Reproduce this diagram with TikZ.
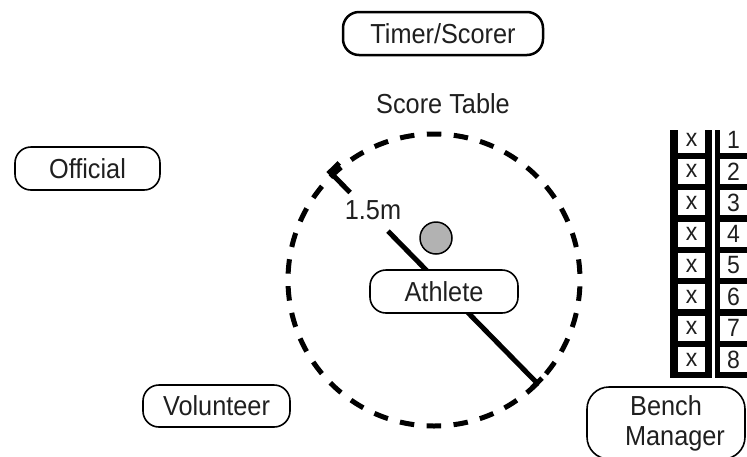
\documentclass[tikz,border=0pt]{standalone}
\usepackage{fontspec}
\setmainfont[FakeStretch=0.92]{Liberation Sans}
\usetikzlibrary{calc}
\begin{document}
\begin{tikzpicture}[x=1pt,y=-1pt,
  lbl/.style={font=\fontsize{27.5}{30}\selectfont, text=black!88},
  pill/.style={lbl, draw=black, line width=1.6pt, fill=white, rounded corners=16pt, inner sep=0pt},
  ring/.style={draw=black, line width=5pt, dash pattern=on 14.5pt off 12.48pt, dash phase=20.77pt},
  meas/.style={draw=black, line width=5pt},
  cell/.style={fill=white, minimum width=27pt, minimum height=25pt, inner sep=0pt,
               font=\fontsize{25}{28}\selectfont, text=black!88}]
\useasboundingbox (0,0) rectangle (747,456);
\clip (0,0) rectangle (747,456);

% top
\node[pill, line width=2.5pt, minimum width=200pt, minimum height=43pt] (timer) at (443,33.5) {Timer/Scorer};
\node[lbl, anchor=base] (scoretable) at (443,113) {Score Table};

% ring of 1.5 m
\node[circle, ring, minimum size=292pt, inner sep=0pt] (ringnode) at (434,280) {};
\coordinate (ra) at (330,172);
\coordinate (rb) at (537,383);
\draw[meas] ($(ra)!13pt!90:(rb)$) -- (ra) -- ($(ra)!0.097!(rb)$);
\draw[meas] ($(ra)!0.28!(rb)$) -- (rb);
\draw[meas] ($(rb)!7pt!90:(ra)$) -- ($(rb)!7pt!-90:(ra)$);
\node[lbl] (rlabel) at (373,210) {1.5m};
\node[circle, draw=black, fill=black!30, line width=1.5pt, minimum size=32pt, inner sep=0pt] (ball) at (436,238) {};
\node[pill, minimum width=148pt, minimum height=43pt] (athlete) at (444,291.5) {Athlete};

% other people
\node[pill, minimum width=145pt, minimum height=43pt] (official) at (87.5,168.5) {Official};
\node[pill, minimum width=147pt, minimum height=42pt] (volunteer) at (216.5,406) {Volunteer};
\node[pill, rounded corners=22pt, minimum width=158pt, minimum height=72pt, align=center] (bench) at (666,423) {Bench\\\hspace*{18pt}Manager};

% bench table
\fill[black] (670,130) rectangle (712,377.5);
\fill[black] (715,130) rectangle (760,377.5);
\foreach \i in {1,...,8} {
  \pgfmathsetmacro{\yy}{140+31.36*(\i-1)}
  \node[cell] (x\i) at (691.5,\yy) {x};
  \node[cell] (n\i) at (733.5,\yy) {\i};
}
\end{tikzpicture}
\end{document}
